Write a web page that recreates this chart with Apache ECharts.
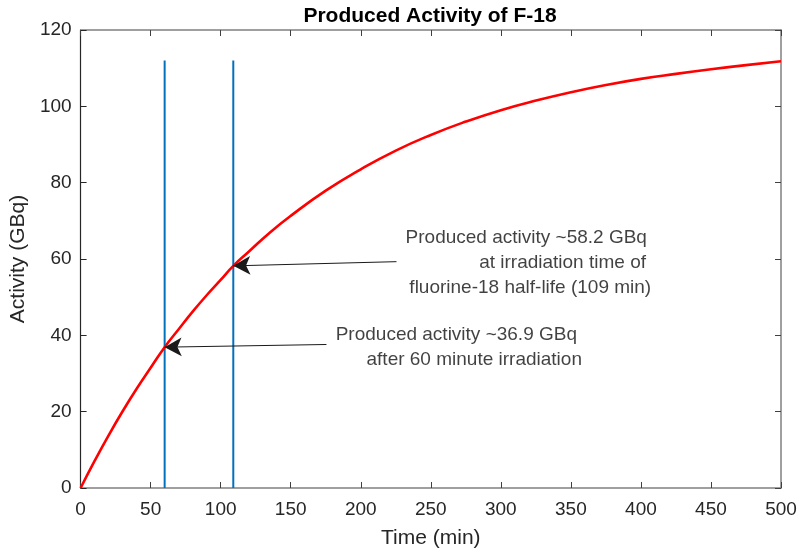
<!DOCTYPE html>
<html>
<head>
<meta charset="utf-8">
<script src="https://cdn.jsdelivr.net/npm/echarts@6/dist/echarts.min.js"></script>
<style>html,body{margin:0;padding:0;background:#fff}#c{width:800px;height:554px}</style>
</head>
<body>
<div id="c"></div>
<script>
// Data
var timeMin = [0, 10, 20, 30, 40, 50, 60, 70, 80, 90, 100, 109, 120, 135, 150, 175, 200, 225, 250, 275, 300, 325, 350, 375, 400, 425, 450, 475, 500];
var activityGBq = [0, 7.1, 13.8, 20.1, 26.0, 31.5, 36.9, 41.6, 46.2, 50.5, 54.5, 58.2, 61.9, 66.9, 71.3, 77.9, 83.5, 88.4, 92.5, 96.0, 99.0, 101.5, 103.7, 105.6, 107.2, 108.5, 109.7, 110.8, 111.8];
var markerTimes = [60, 109];
var markerTop = 112;
var xTicks = [0, 500, 50];
var yTicks = [0, 120, 20];
var titleText = 'Produced Activity of F-18';
var xName = 'Time (min)';
var yName = 'Activity (GBq)';
var arrowHeads = [[109, 58.2], [60, 36.9]];
var arrowTails = [[225.5, 59.3], [175.5, 37.6]];
var noteLines = ['Produced activity ~58.2 GBq', 'at irradiation time of', 'fluorine-18 half-life (109 min)', 'Produced activity ~36.9 GBq', 'after 60 minute irradiation'];
var noteAnchors = [[232, 65.5], [284.5, 58.9], [234.7, 52.4], [182.1, 40.1], [204.1, 33.5]];

var curve = timeMin.map(function (t, i) { return [t, activityGBq[i]]; });
var font = 'Liberation Sans, Arial, Helvetica, sans-serif';
var txt = '#262626';

var series = [];
markerTimes.forEach(function (t) {
  series.push({
    type: 'line', data: [[t, 0], [t, markerTop]], symbol: 'none',
    lineStyle: { color: '#0072BD', width: 2 }, z: 2, silent: true
  });
});
series.push({
  type: 'line', data: curve, smooth: true, symbol: 'none',
  lineStyle: { color: '#FF0000', width: 2.6 }, z: 3,
  markLine: {
    silent: true, symbol: ['none', 'arrow'], symbolSize: [14, 17],
    label: { show: false },
    lineStyle: { color: '#1a1a1a', width: 1, type: 'solid' },
    data: arrowTails.map(function (p, i) {
      return [{ coord: p }, { coord: arrowHeads[i] }];
    })
  }
});
series.push({
  type: 'scatter', symbolSize: 0, z: 5, silent: true,
  data: noteAnchors.map(function (p, i) { return { value: p, name: noteLines[i] }; }),
  label: {
    show: true, position: [0, 0], align: 'left', verticalAlign: 'middle',
    formatter: function (p) { return p.name; },
    color: '#111', fontSize: 19, fontFamily: font
  }
});

var boxLine = { show: true, onZero: false, lineStyle: { color: '#808080', width: 1.5 } };
var chart = echarts.init(document.getElementById('c'), null, { renderer: 'canvas' });
chart.setOption({
  animation: false,
  backgroundColor: '#fff',
  title: {
    text: titleText, left: 425, top: 1, textAlign: 'center',
    textStyle: { fontSize: 21, fontWeight: 'bold', color: '#000', fontFamily: font }
  },
  grid: { left: 77, right: 19, top: 30, bottom: 66, containLabel: false },
  xAxis: [{
    type: 'value', min: xTicks[0], max: xTicks[1], interval: xTicks[2],
    name: xName, nameLocation: 'middle', nameGap: 40,
    nameTextStyle: { fontSize: 21, color: txt, fontFamily: font },
    axisLine: boxLine,
    axisTick: { show: true, inside: true, length: 6, lineStyle: { color: '#404040' } },
    axisLabel: { fontSize: 19, color: txt, margin: 12, fontFamily: font },
    splitLine: { show: false }
  }, {
    type: 'value', position: 'top', min: xTicks[0], max: xTicks[1], interval: xTicks[2],
    axisLine: boxLine,
    axisTick: { show: true, inside: true, length: 6, lineStyle: { color: '#404040' } },
    axisLabel: { show: false }, splitLine: { show: false }
  }],
  yAxis: [{
    type: 'value', min: yTicks[0], max: yTicks[1], interval: yTicks[2],
    name: yName, nameLocation: 'middle', nameGap: 40,
    nameTextStyle: { fontSize: 21, color: txt, fontFamily: font },
    axisLine: { show: true, onZero: false, lineStyle: { color: '#262626', width: 1.2 } },
    axisTick: { show: true, inside: true, length: 6, lineStyle: { color: '#262626' } },
    axisLabel: { fontSize: 19, color: txt, margin: 9, fontFamily: font },
    splitLine: { show: false }
  }, {
    type: 'value', position: 'right', min: yTicks[0], max: yTicks[1], interval: yTicks[2],
    axisLine: boxLine,
    axisTick: { show: true, inside: true, length: 6, lineStyle: { color: '#404040' } },
    axisLabel: { show: false }, splitLine: { show: false }
  }],
  series: series
});
</script>
</body>
</html>
